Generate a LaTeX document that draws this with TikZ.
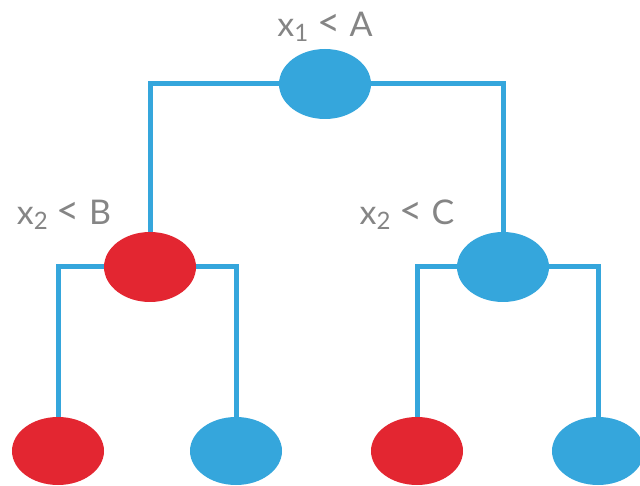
\documentclass[tikz,border=0pt]{standalone}
\usepackage{fontspec}
\setmainfont{Lato}
\usetikzlibrary{backgrounds,shapes.geometric}
\definecolor{tblue}{HTML}{35A6DC}
\definecolor{tred}{HTML}{E32631}
\definecolor{tgray}{HTML}{858585}
\newcommand{\mysub}[1]{\raisebox{-5pt}{\fontsize{24pt}{26pt}\selectfont #1}}
\newcommand{\mylt}{\hspace{9pt}{\fontsize{40pt}{40pt}\selectfont <}\hspace{9pt}}
\tikzset{
  leaf/.style={ellipse, minimum width=92pt, minimum height=68pt, inner sep=0pt, draw=none},
  bluenode/.style={leaf, fill=tblue},
  rednode/.style={leaf, fill=tred},
  conn/.style={draw=tblue, line width=5pt},
  lbl/.style={text=tgray, font=\fontsize{34pt}{38pt}\selectfont, anchor=base, inner sep=0pt}
}
\begin{document}
\begin{tikzpicture}[x=1pt,y=-1pt]
\useasboundingbox (0,0) rectangle (640,486);
\node[bluenode, minimum height=70pt] (root) at (325,84) {};
\node[rednode, minimum height=70pt] (L) at (150,267) {};
\node[bluenode, minimum height=70pt] (R) at (503,267) {};
\node[rednode] (LL) at (58,451) {};
\node[bluenode] (LR) at (236,451) {};
\node[rednode] (RL) at (417,451) {};
\node[bluenode] (RR) at (598,451) {};
\node[lbl] (lA) at (325,37) {x\mysub{1}\mylt A};
\node[lbl] (lB) at (64,225) {x\mysub{2}\mylt B};
\node[lbl] (lC) at (407,225) {x\mysub{2}\mylt C};
\begin{scope}[on background layer]
\draw[conn] (L.north) -- (L.north |- root) -- (R.north |- root) -- (R.north);
\draw[conn] (LL.north) -- (LL.north |- L) -- (LR.north |- L) -- (LR.north);
\draw[conn] (RL.north) -- (RL.north |- R) -- (RR.north |- R) -- (RR.north);
\end{scope}
\end{tikzpicture}
\end{document}
